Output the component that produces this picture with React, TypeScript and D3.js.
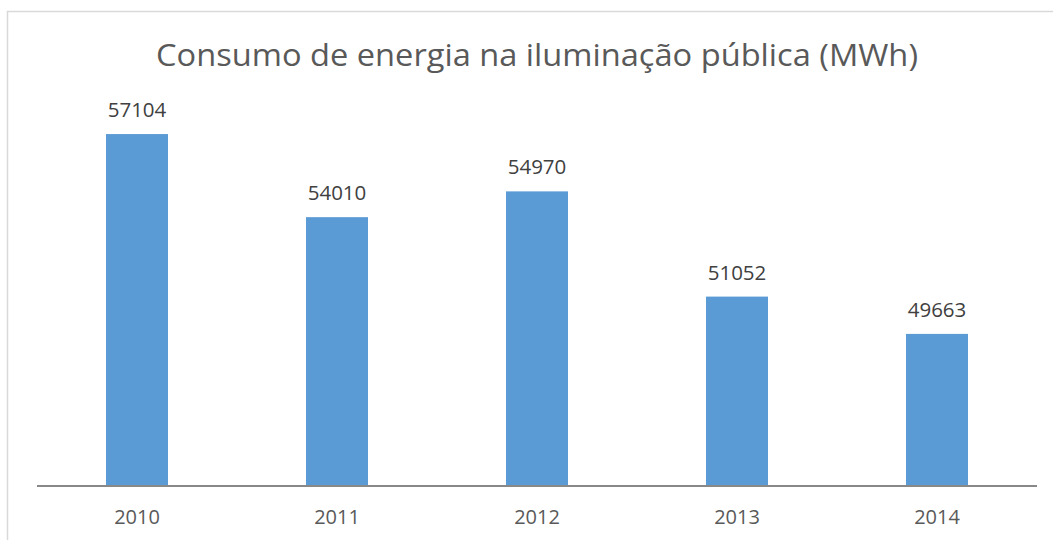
import React from "react";
import * as d3 from "d3";

const title = "Consumo de energia na iluminação pública (MWh)";
const years = ["2010", "2011", "2012", "2013", "2014"];
const values = [57104, 54010, 54970, 51052, 49663];
const yDomain = [44000, 58000];

const W = 1053;
const H = 540;

export default function App() {
  const x = d3
    .scaleBand<string>()
    .domain(years)
    .range([37, 1037])
    .paddingInner(0.69)
    .paddingOuter(0.345);
  const y = d3.scaleLinear().domain(yDomain).range([486, 110]);
  const font = "'Open Sans', 'Noto Sans', sans-serif";
  const textColor = "#595959";

  return (
    <svg
      width={W}
      height={H}
      style={{ position: "absolute", left: 0, top: 0, display: "block", background: "#fff" }}
      fontFamily={font}
    >
      <rect x={7.5} y={11.5} width={1200} height={700} fill="#fff" stroke="#d9d9d9" strokeWidth={1.5} />
      <text
        x={537}
        y={66}
        textAnchor="middle"
        fontSize={31}
        fill={textColor}
        textLength={762}
        lengthAdjust="spacingAndGlyphs"
      >
        {title}
      </text>
      {years.map((yr, i) => (
        <g key={yr}>
          <rect
            x={x(yr)}
            y={y(values[i])}
            width={x.bandwidth()}
            height={y(yDomain[0]) - y(values[i])}
            fill="#5B9BD5"
          />
          <text
            x={(x(yr) as number) + x.bandwidth() / 2}
            y={y(values[i]) - 17}
            textAnchor="middle"
            fontSize={20.5}
            fill="#404040"
          >
            {values[i]}
          </text>
          <text
            x={(x(yr) as number) + x.bandwidth() / 2}
            y={524}
            textAnchor="middle"
            fontSize={20}
            fill={textColor}
          >
            {yr}
          </text>
        </g>
      ))}
      <line x1={37} x2={1037} y1={486} y2={486} stroke="#888888" strokeWidth={2} />
    </svg>
  );
}
